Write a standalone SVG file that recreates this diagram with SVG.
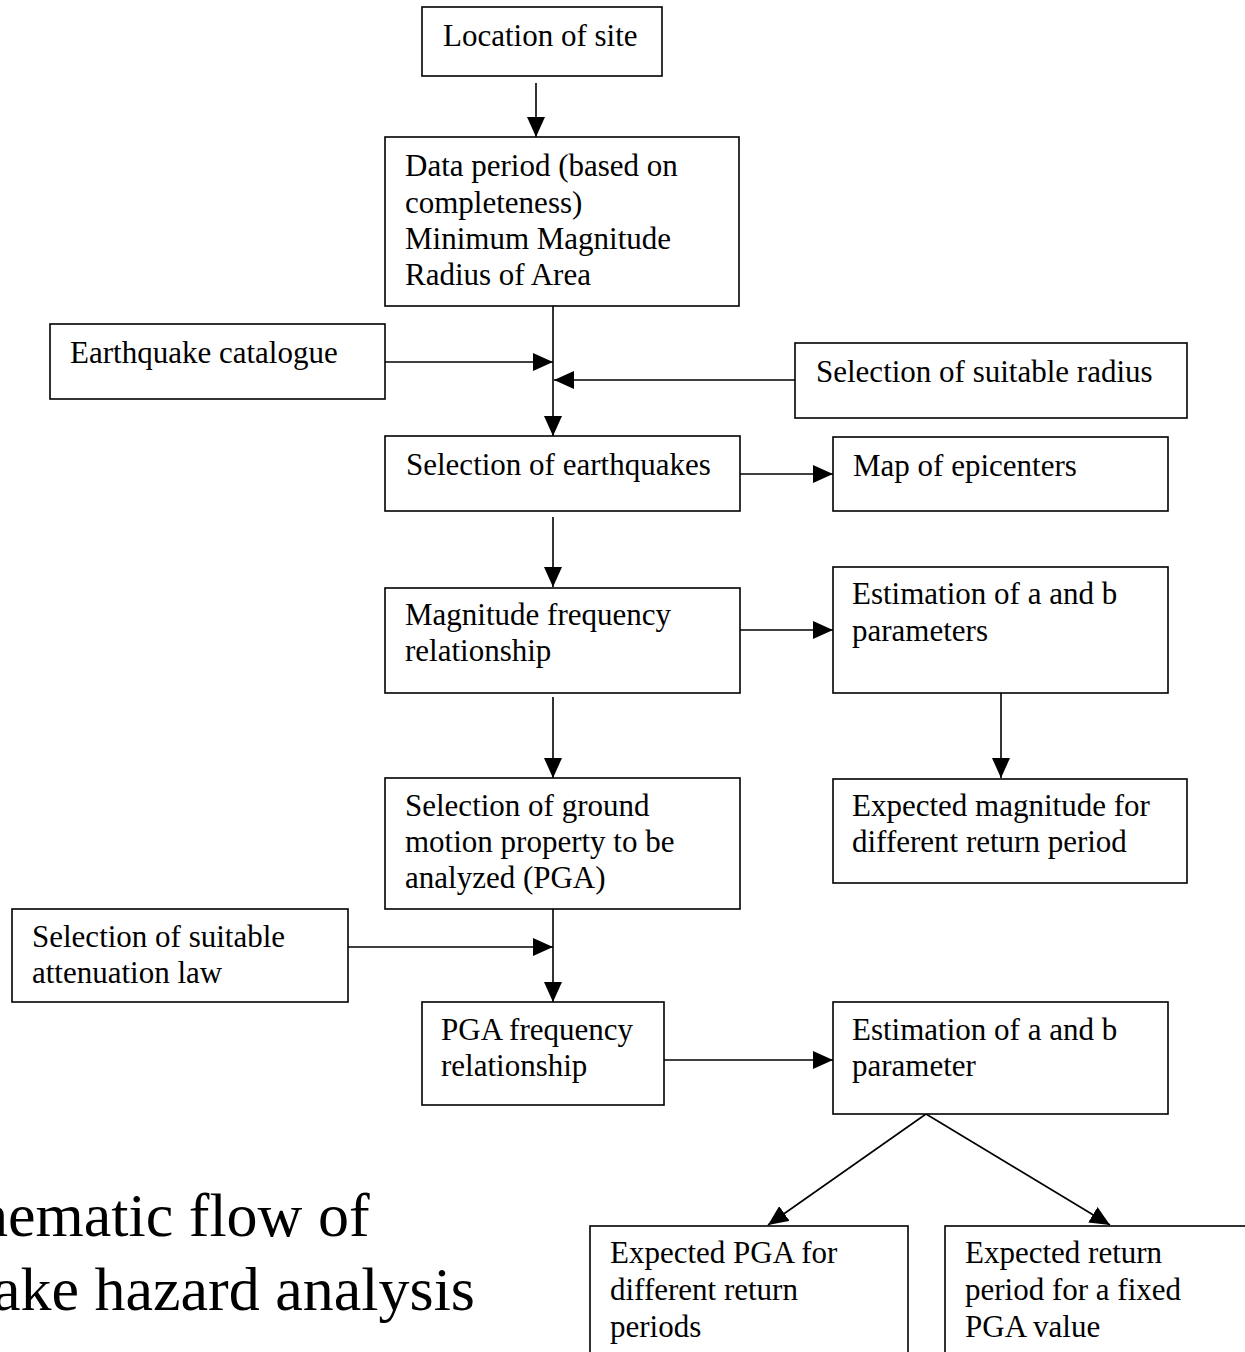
<svg xmlns="http://www.w3.org/2000/svg" width="1245" height="1352" viewBox="0 0 1245 1352">
<style>
.box{fill:#fff;stroke:#000;stroke-width:1.6}
.t{font-family:"Liberation Serif","Times New Roman",serif;font-size:31px;fill:#000}
.title{font-family:"Liberation Serif","Times New Roman",serif;font-size:62px;fill:#000}
.c{fill:none;stroke:#000;stroke-width:1.6}
</style>
<defs>
<marker id="ah" markerUnits="userSpaceOnUse" markerWidth="20" markerHeight="18" refX="20" refY="9" orient="auto">
<path d="M0,0 L20,9 L0,18 z" fill="#000"/>
</marker>
</defs>
<rect width="1245" height="1352" fill="#fff"/>
<g id="connectors">
<line class="c" x1="536" y1="83" x2="536" y2="137" marker-end="url(#ah)"/>
<line class="c" x1="553" y1="306" x2="553" y2="436" marker-end="url(#ah)"/>
<line class="c" x1="385" y1="362" x2="553" y2="362" marker-end="url(#ah)"/>
<line class="c" x1="795" y1="380" x2="554" y2="380" marker-end="url(#ah)"/>
<line class="c" x1="740" y1="474" x2="833" y2="474" marker-end="url(#ah)"/>
<line class="c" x1="553" y1="517" x2="553" y2="587" marker-end="url(#ah)"/>
<line class="c" x1="740" y1="630" x2="833" y2="630" marker-end="url(#ah)"/>
<line class="c" x1="553" y1="697" x2="553" y2="778" marker-end="url(#ah)"/>
<line class="c" x1="1001" y1="693" x2="1001" y2="778" marker-end="url(#ah)"/>
<line class="c" x1="553" y1="909" x2="553" y2="1002" marker-end="url(#ah)"/>
<line class="c" x1="348" y1="947" x2="553" y2="947" marker-end="url(#ah)"/>
<line class="c" x1="664" y1="1060" x2="833" y2="1060" marker-end="url(#ah)"/>
<line class="c" x1="926" y1="1114" x2="768" y2="1225" marker-end="url(#ah)"/>
<line class="c" x1="926" y1="1114" x2="1110" y2="1225" marker-end="url(#ah)"/>
</g>
<g id="n-location"><rect class="box" x="422" y="7" width="240" height="69"/><text class="t" x="443" y="46">Location of site</text></g>
<g id="n-data"><rect class="box" x="385" y="137" width="354" height="169"/><text class="t"><tspan x="405" y="176">Data period (based on</tspan><tspan x="405" y="213">completeness)</tspan><tspan x="405" y="249">Minimum Magnitude</tspan><tspan x="405" y="285">Radius of Area</tspan></text></g>
<g id="n-catalogue"><rect class="box" x="50" y="324" width="335" height="75"/><text class="t" x="70" y="363">Earthquake catalogue</text></g>
<g id="n-radius"><rect class="box" x="795" y="343" width="392" height="75"/><text class="t" x="816" y="382">Selection of suitable radius</text></g>
<g id="n-selection"><rect class="box" x="385" y="436" width="355" height="75"/><text class="t" x="406" y="475">Selection of earthquakes</text></g>
<g id="n-map"><rect class="box" x="833" y="437" width="335" height="74"/><text class="t" x="853" y="476">Map of epicenters</text></g>
<g id="n-magfreq"><rect class="box" x="385" y="588" width="355" height="105"/><text class="t"><tspan x="405" y="625">Magnitude frequency</tspan><tspan x="405" y="661">relationship</tspan></text></g>
<g id="n-estab1"><rect class="box" x="833" y="567" width="335" height="126"/><text class="t"><tspan x="852" y="604">Estimation of a and b</tspan><tspan x="852" y="641">parameters</tspan></text></g>
<g id="n-ground"><rect class="box" x="385" y="778" width="355" height="131"/><text class="t"><tspan x="405" y="816">Selection of ground</tspan><tspan x="405" y="852">motion property to be</tspan><tspan x="405" y="888">analyzed (PGA)</tspan></text></g>
<g id="n-expmag"><rect class="box" x="833" y="779" width="354" height="104"/><text class="t"><tspan x="852" y="816">Expected magnitude for</tspan><tspan x="852" y="852">different return period</tspan></text></g>
<g id="n-atten"><rect class="box" x="12" y="909" width="336" height="93"/><text class="t"><tspan x="32" y="947">Selection of suitable</tspan><tspan x="32" y="983">attenuation law</tspan></text></g>
<g id="n-pgafreq"><rect class="box" x="422" y="1002" width="242" height="103"/><text class="t"><tspan x="441" y="1040">PGA frequency</tspan><tspan x="441" y="1076">relationship</tspan></text></g>
<g id="n-estab2"><rect class="box" x="833" y="1002" width="335" height="112"/><text class="t"><tspan x="852" y="1040">Estimation of a and b</tspan><tspan x="852" y="1076">parameter</tspan></text></g>
<g id="n-exppga"><rect class="box" x="590" y="1226" width="318" height="140"/><text class="t"><tspan x="610" y="1263">Expected PGA for</tspan><tspan x="610" y="1300">different return</tspan><tspan x="610" y="1337">periods</tspan></text></g>
<g id="n-expret"><rect class="box" x="945" y="1226" width="320" height="140"/><text class="t"><tspan x="965" y="1263">Expected return</tspan><tspan x="965" y="1300">period for a fixed</tspan><tspan x="965" y="1337">PGA value</tspan></text></g>
<g id="title"><text class="title" x="-23" y="1236">hematic flow of</text><text class="title" x="-7" y="1310">ake hazard analysis</text></g>
</svg>
